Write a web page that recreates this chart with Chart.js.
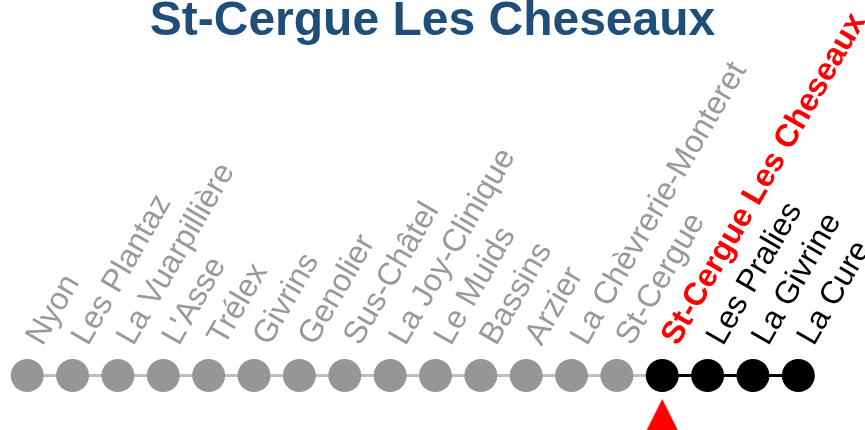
<!DOCTYPE html>
<html>
<head>
<meta charset="utf-8">
<script src="https://cdn.jsdelivr.net/npm/chart.js@4.4.1/dist/chart.umd.min.js"></script>
<style>
  html, body { margin: 0; padding: 0; background: #ffffff; }
  #wrap { width: 865px; height: 430px; }
</style>
</head>
<body>
<div id="wrap"><canvas id="c" width="865" height="430"></canvas></div>
<script>
// ---- data ----
const titleText = 'St-Cergue Les Cheseaux';
const stations = ['Nyon', 'Les Plantaz', 'La Vuarpillière', "L'Asse", 'Trélex', 'Givrins', 'Genolier',
  'Sus-Châtel', 'La Joy-Clinique', 'Le Muids', 'Bassins', 'Arzier', 'La Chèvrerie-Monteret',
  'St-Cergue', 'St-Cergue Les Cheseaux', 'Les Pralies', 'La Givrine', 'La Cure'];
const stopOrder = [0, 1, 2, 3, 4, 5, 6, 7, 8, 9, 10, 11, 12, 13, 14, 15, 16, 17];
const trackLevel = [0, 0, 0, 0, 0, 0, 0, 0, 0, 0, 0, 0, 0, 0, 0, 0, 0, 0];
const currentIndex = 14;
const markerLevel = -1;

// ---- styles ----
const GRAY_DOT = '#969696';
const GRAY_LINE = '#bdbdbd';
const GRAY_TEXT = '#999999';
const BLACK = '#000000';
const RED = '#ff0000';
const FONT = "'Liberation Sans', Arial, sans-serif";

const trackPoints = stopOrder.map((x, i) => ({ x: x, y: trackLevel[i] }));
const dotColors = stopOrder.map(i => (i < currentIndex ? GRAY_DOT : BLACK));

// red marker triangle as a point style
const tri = document.createElement('canvas');
tri.width = 34; tri.height = 34;
(function () {
  const g = tri.getContext('2d');
  g.fillStyle = RED;
  g.beginPath();
  g.moveTo(17, 0); g.lineTo(34, 34); g.lineTo(0, 34); g.closePath();
  g.fill();
})();

new Chart(document.getElementById('c'), {
  type: 'line',
  data: {
    datasets: [
      {
        data: trackPoints,
        borderColor: GRAY_LINE,
        borderWidth: 3,
        segment: { borderColor: ctx => (ctx.p0DataIndex >= currentIndex ? BLACK : GRAY_LINE) },
        pointRadius: 16.5,
        pointBorderWidth: 0,
        pointBackgroundColor: dotColors,
        pointBorderColor: dotColors,
        clip: false,
        order: 2
      },
      {
        data: [{ x: currentIndex, y: markerLevel }],
        showLine: false,
        pointStyle: tri,
        pointRadius: 17,
        clip: false,
        order: 1
      }
    ]
  },
  options: {
    responsive: false,
    animation: false,
    events: [],
    layout: { padding: 0, autoPadding: false },
    plugins: {
      legend: { display: false },
      tooltip: { enabled: false },
      title: { display: false }
    },
    scales: {
      x: {
        type: 'linear',
        position: 'top',
        min: -0.6,
        max: 18.47,
        grid: { display: false },
        border: { display: false },
        title: {
          display: true,
          text: titleText,
          color: '#1f4e79',
          font: { family: FONT, size: 48, weight: 'bold', lineHeight: 43 / 48 },
          padding: 0
        },
        afterBuildTicks: s => { s.ticks = stopOrder.map(v => ({ value: v })); },
        afterFit: s => {
          s.height = 352;
          s.paddingLeft = 0; s.paddingRight = 0; s.paddingTop = 0; s.paddingBottom = 0;
        },
        ticks: {
          autoSkip: false,
          minRotation: 60,
          maxRotation: 60,
          padding: -8,
          labelOffset: 41,
          callback: v => stations[v],
          color: ctx => (ctx.index < currentIndex ? GRAY_TEXT : (ctx.index === currentIndex ? RED : BLACK)),
          font: ctx => ({ family: FONT, size: 32, weight: ctx.index === currentIndex ? 'bold' : 'normal' })
        }
      },
      y: {
        display: false,
        min: -1.346,
        max: 0.580
      }
    }
  }
});
</script>
</body>
</html>
